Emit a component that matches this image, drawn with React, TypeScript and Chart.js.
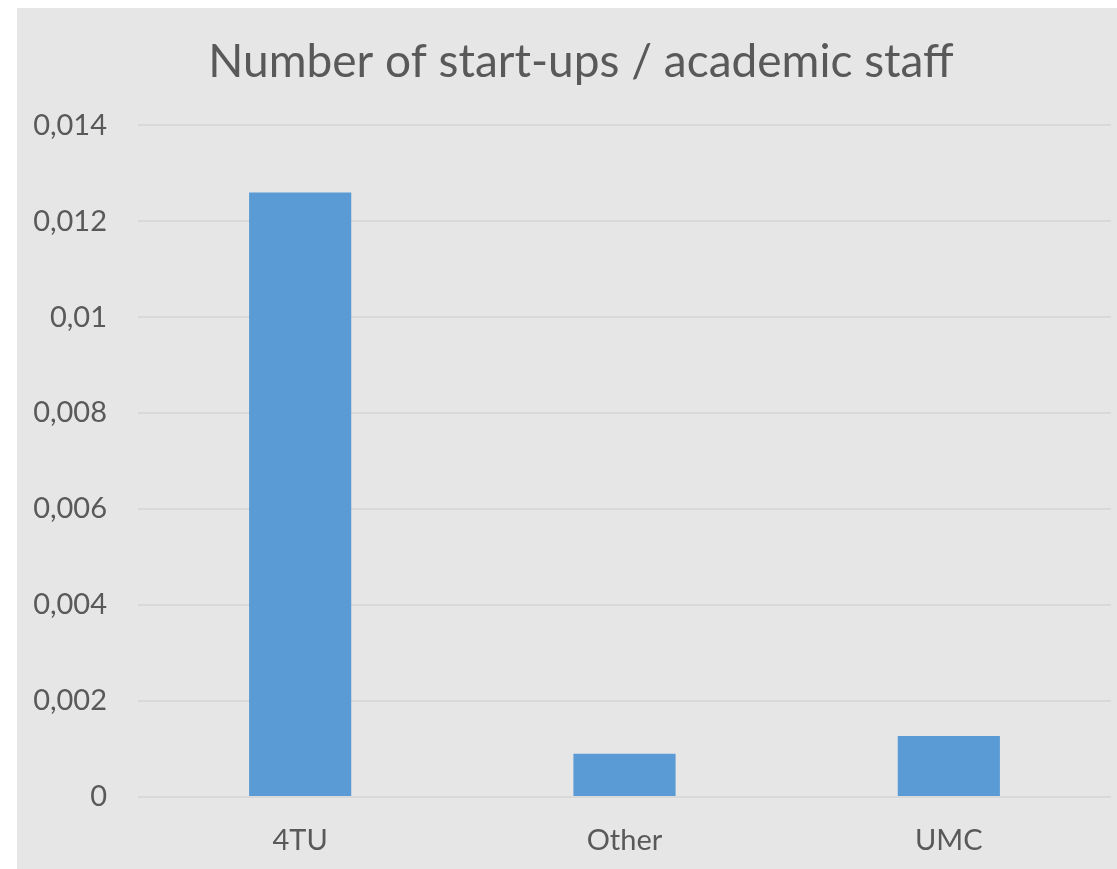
import React, { useEffect, useRef } from "react";
import { Chart, registerables } from "chart.js";

Chart.register(...registerables);

const categories = ["4TU", "Other", "UMC"];
const values = [0.0126, 0.0009, 0.00127];
const tickValues = [0, 0.002, 0.004, 0.006, 0.008, 0.01, 0.012, 0.014];
const titleText = "Number of start-ups / academic staff";

const TEXT = "#595959";
const FONT = "Lato, 'Open Sans', sans-serif";

const titleShift = {
  id: "titleShift",
  afterLayout(chart: any) {
    const tb = chart.titleBlock;
    if (tb) {
      tb.left += 17;
      tb.right += 17;
    }
  },
};

export default function App() {
  const ref = useRef<HTMLCanvasElement | null>(null);
  useEffect(() => {
    if (!ref.current) return;
    const chart = new Chart(ref.current, {
      type: "bar",
      data: {
        labels: categories,
        datasets: [
          {
            data: values,
            backgroundColor: "#5b9bd5",
            borderWidth: 0,
            categoryPercentage: 1,
            barPercentage: 0.315,
          },
        ],
      },
      options: {
        animation: false,
        responsive: false,
        maintainAspectRatio: false,
        layout: { padding: { left: 0, right: 6, top: 0, bottom: 0 } },
        plugins: {
          legend: { display: false },
          tooltip: { enabled: false },
          title: {
            display: true,
            text: titleText,
            color: TEXT,
            font: { family: FONT, size: 46, weight: "normal" },
            padding: { top: 27, bottom: 35 },
          },
        },
        scales: {
          x: {
            grid: { display: false, drawTicks: false },
            border: { display: false },
            ticks: {
              color: TEXT,
              font: { family: FONT, size: 29 },
              padding: 26,
              maxRotation: 0,
            },
            afterFit: (s: any) => {
              s.height = 72;
            },
          },
          y: {
            min: 0,
            max: 0.014,
            afterBuildTicks: (s: any) => {
              s.ticks = tickValues.map((v) => ({ value: v }));
            },
            grid: { color: "#d9d9d9", lineWidth: 2, drawTicks: false },
            border: { display: false },
            ticks: {
              color: TEXT,
              font: { family: FONT, size: 29 },
              padding: 31,
              callback: (v: any) => String(v).replace(".", ","),
            },
            afterFit: (s: any) => {
              s.width = 121;
            },
          },
        },
      },
      plugins: [titleShift],
    });
    return () => chart.destroy();
  }, []);
  return (
    <div
      style={{
        position: "fixed",
        left: 17,
        top: 8,
        width: 1100,
        height: 861,
        background: "#e7e6e6",
        overflow: "hidden",
      }}
    >
      <canvas ref={ref} width={1100} height={861} style={{ display: "block" }} />
    </div>
  );
}
